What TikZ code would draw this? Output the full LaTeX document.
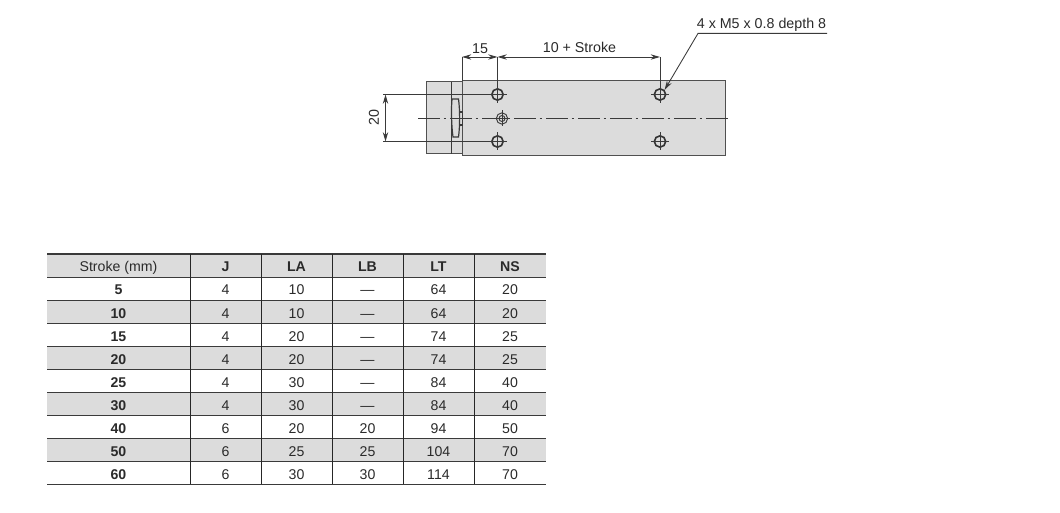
\documentclass[tikz,border=0pt]{standalone}
\usepackage{fontspec}
\setmainfont{Liberation Sans}
\usetikzlibrary{arrows.meta}
\definecolor{bodygray}{HTML}{DCDCDC}
\definecolor{inkc}{HTML}{3A3A3A}
\definecolor{edgec}{HTML}{505050}
\definecolor{txt}{HTML}{2A2A2A}
\tikzset{
  x=0.75pt,y=-0.75pt,
  body/.style={draw=edgec,fill=bodygray,line width=0.75pt},
  thin line/.style={draw=inkc,line width=0.65pt},
  dim/.style={thin line,{Stealth[length=7pt,width=4pt]}-{Stealth[length=7pt,width=4pt]}},
  outdim/.style={thin line,-{Stealth[length=7pt,width=4pt]}},
  center line/.style={draw=inkc,line width=0.65pt,dash pattern=on 16.5pt off 2.7pt on 2.1pt off 2.7pt},
  label/.style={font=\fontsize{10.7pt}{12pt}\selectfont,text=txt,inner sep=0pt},
  cell/.style={font=\fontsize{10.6pt}{12pt}\selectfont,text=txt,inner sep=0pt,anchor=base},
  bcell/.style={cell,font=\fontsize{10.6pt}{12pt}\selectfont\bfseries},
  rowline/.style={draw=inkc,line width=0.65pt},
  colline/.style={draw=black!85,line width=0.65pt},
  rowshade/.style={fill=bodygray,draw=none},
  hole/.style={circle,draw=black!80,line width=1.2pt,minimum size=8.5pt,inner sep=0pt},
}
\newcommand{\holecross}[1]{%
  \draw[thin line] (#1)++(-9,0) -- ++(18,0) (#1)++(0,-9) -- ++(0,18);}
\begin{document}
\begin{tikzpicture}
\useasboundingbox (0,0) rectangle (1060,513);
% bodies
\draw[body] (426,82) rectangle (462,154);
\draw[body] (462,81) rectangle (725,156);
\draw[thin line] (451,82) -- (451,154);
% center line
\coordinate (cl) at (418,118);
\coordinate (cr) at (730,118);
\draw[center line] (cl) -- (cr);
% slot
\draw[thin line,line width=0.9pt] (452,99) -- (458.5,99) .. controls (460,110) and (460,126) .. (458.5,137) -- (453,137) .. controls (451.5,126) and (451,110) .. cycle;
\draw[thin line,line width=0.8pt] (459.7,112) -- (462.5,112) -- (462.5,125) -- (459.7,125);
% holes
\coordinate (h1) at (497.5,94.5);
\coordinate (h2) at (497.5,141.5);
\coordinate (h3) at (660,94.5);
\coordinate (h4) at (660,141.5);
\coordinate (h5) at (502,118.5);
\node[hole,fill=bodygray] (n1) at (h1) {};
\node[hole,fill=bodygray] (n2) at (h2) {};
\node[hole,fill=bodygray] (n3) at (h3) {};
\node[hole,fill=bodygray] (n4) at (h4) {};
\holecross{h1}\holecross{h2}\holecross{h3}\holecross{h4}
\node[circle,draw=inkc,line width=0.7pt,fill=bodygray,minimum size=8.5pt,inner sep=0pt] (n5) at (h5) {};
\node[circle,draw=inkc,line width=0.7pt,minimum size=4.5pt,inner sep=0pt] at (h5) {};
\draw[thin line] (h5)++(-8,0) -- ++(16,0) (h5)++(0,-8) -- ++(0,16);
% dimensions top
\coordinate (dl) at (462,57);
\coordinate (dm) at (497.5,57);
\coordinate (dr) at (660,57);
\draw[thin line] (dl) -- (462,81);
\draw[thin line] (dm) -- (n1.north);
\draw[thin line] (dr) -- (n3.north);
\draw[dim] (dl) -- (dm);
\draw[dim] (dm) -- (dr);
\node[label] (t15) at (480,48.5) {15};
\node[label] (t10) at (579.5,47) {10 + Stroke};
% dimension left
\coordinate (el) at (383,94.5);
\coordinate (el2) at (383,141.5);
\coordinate (dt) at (385.5,94.5);
\coordinate (db) at (385.5,141.5);
\draw[thin line] (el) -- (n1.west);
\draw[thin line] (el2) -- (n2.west);
\draw[dim] (dt) -- (db);
\node[label,rotate=90] (t20) at (374,118) {20};
% leader
\coordinate (ld1) at (827,33.4);
\coordinate (ld2) at (698,33.4);
\node[label] (tnote) at (761.5,25) {4 x M5 x 0.8 depth 8};
\draw[outdim] (ld1) -- (ld2) -- (n3.north east);
% table shading
\fill[rowshade] (47,254) rectangle (546,277);
\fill[rowshade] (47,300) rectangle (546,323);
\fill[rowshade] (47,346) rectangle (546,369);
\fill[rowshade] (47,392) rectangle (546,415);
\fill[rowshade] (47,438) rectangle (546,461);
% table lines
\draw[draw=inkc,line width=1.4pt] (47,254) -- (546,254);
\foreach \y in {277,300,323,346,369,392,415,438,461,484}
  \draw[rowline] (47,\y) -- (546,\y);
\foreach \x in {190,261,332,403,474}
  \draw[colline] (\x,254) -- (\x,484);
% header
\node[cell] (hs) at (118.5,272) {Stroke (mm)};
\node[bcell] (hj) at (225.5,272) {J};
\node[bcell] (hla) at (296.5,272) {LA};
\node[bcell] (hlb) at (367.5,272) {LB};
\node[bcell] (hlt) at (438.5,272) {LT};
\node[bcell] (hns) at (510,272) {NS};
% rows
\foreach \r/\s/\j/\la/\lb/\lt/\ns in {
 0/5/4/10/---/64/20,
 1/10/4/10/---/64/20,
 2/15/4/20/---/74/25,
 3/20/4/20/---/74/25,
 4/25/4/30/---/84/40,
 5/30/4/30/---/84/40,
 6/40/6/20/20/94/50,
 7/50/6/25/25/104/70,
 8/60/6/30/30/114/70}{
  \pgfmathsetmacro{\yy}{295+23*\r}
  \node[bcell] at (118.5,\yy) {\s};
  \node[cell] at (225.5,\yy) {\j};
  \node[cell] at (296.5,\yy) {\la};
  \node[cell] at (367.5,\yy) {\lb};
  \node[cell] at (438.5,\yy) {\lt};
  \node[cell] at (510,\yy) {\ns};
}
\end{tikzpicture}
\end{document}
